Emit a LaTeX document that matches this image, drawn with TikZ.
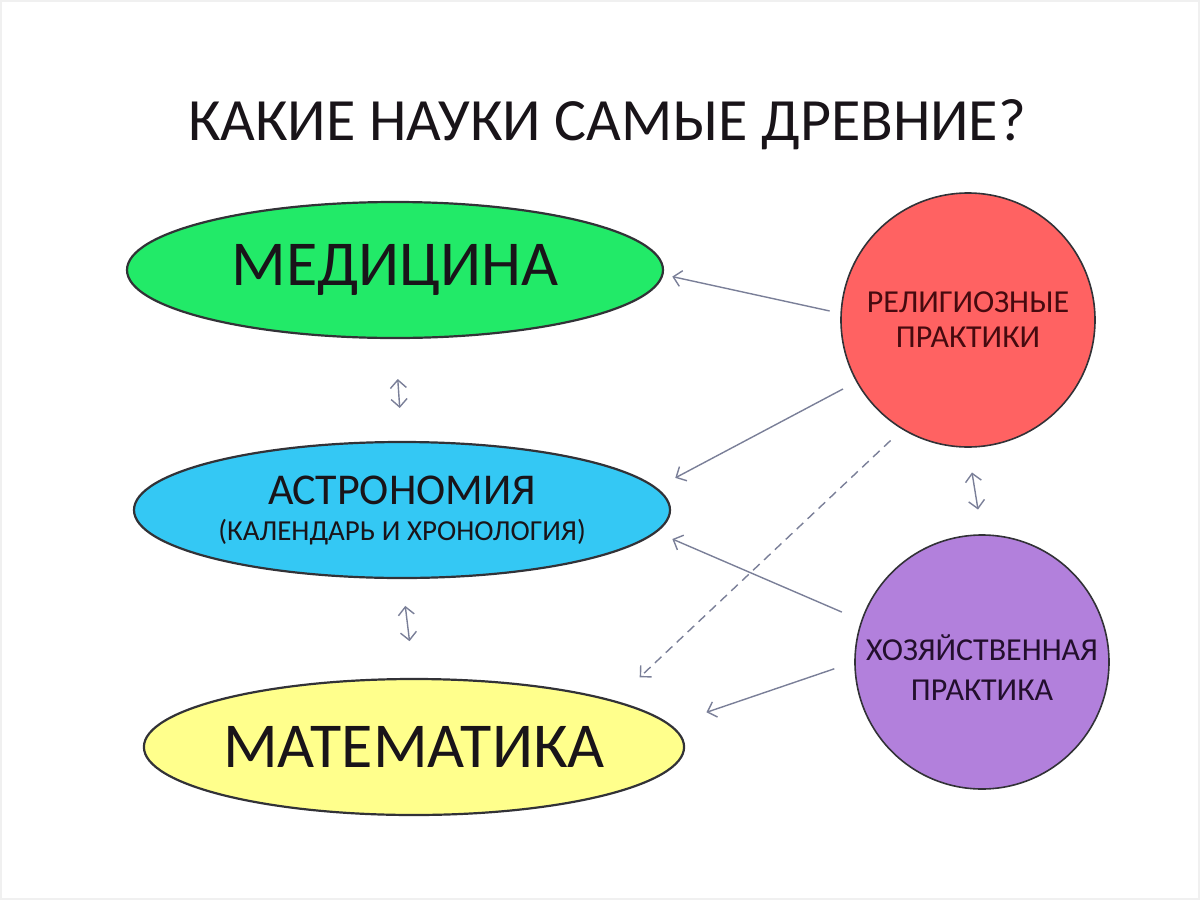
\documentclass[tikz,border=0pt]{standalone}
\usepackage{fontspec}
\setmainfont{Carlito}
\usetikzlibrary{arrows.meta,shapes.geometric}

\definecolor{medgreen}{RGB}{34,234,104}
\definecolor{astroblue}{RGB}{52,200,244}
\definecolor{mathyellow}{RGB}{255,255,140}
\definecolor{relred}{RGB}{255,98,98}
\definecolor{ecopurple}{RGB}{178,128,220}
\definecolor{outline}{RGB}{50,50,55}
\definecolor{linkgray}{RGB}{122,127,152}
\definecolor{textdark}{RGB}{25,20,25}
\definecolor{reltext}{RGB}{70,10,15}
\definecolor{ecotext}{RGB}{35,15,45}

\begin{document}
\begin{tikzpicture}[
x=1pt,
y=-1pt,
science/.style={ellipse, draw=outline, line width=2.2pt, minimum width=536pt,
  minimum height=136pt, inner sep=0pt, align=center, text=textdark},
source/.style={circle, draw=outline, line width=1.6pt, minimum size=254pt,
  inner sep=0pt, align=center},
link/.style={draw=linkgray, line width=1.4pt, -{Straight Barb[length=8pt,width=16pt]}},
both/.style={link, {Straight Barb[length=8pt,width=16pt]}-{Straight Barb[length=8pt,width=16pt]}}
]

\useasboundingbox (0,0) rectangle (1200,900);
\draw[gray!12, line width=2pt] (1,1) rectangle (1199,899);

% title
\node[text=textdark, font=\fontsize{60}{64}\selectfont] (title) at (607,125)
  {КАКИЕ НАУКИ САМЫЕ ДРЕВНИЕ?};

% sciences
\node[science, fill=medgreen, font=\fontsize{64}{68}\selectfont] (med) at (395,270) {МЕДИЦИНА};
\node[science, fill=astroblue, font=\fontsize{44}{36}\selectfont] (astro) at (402,510)
  {АСТРОНОМИЯ\\{\fontsize{29}{36}\selectfont (КАЛЕНДАРЬ И ХРОНОЛОГИЯ)}};
\node[science, fill=mathyellow, font=\fontsize{64}{68}\selectfont] (math) at (414,747) {МАТЕМАТИКА};

% sources
\node[source, fill=relred, text=reltext, font=\fontsize{32}{35}\selectfont] (rel) at (968,320)
  {РЕЛИГИОЗНЫЕ\\ПРАКТИКИ};
\node[source, fill=ecopurple,
  label={[name=ecolabel, align=center, yshift=-6pt, text=ecotext,
    font=\fontsize{32}{40}\selectfont]center:ХОЗЯЙСТВЕННАЯ\\ПРАКТИКА}] (eco) at (982,662) {};

% influences
\draw[link, shorten <=11pt, shorten >=9pt] (rel.177) -- (med.-1.3);
\draw[link, shorten <=15pt, shorten >=21pt] (rel.209) -- (astro.5.8);
\draw[link, dash pattern=on 9pt off 6pt, shorten <=16pt, shorten >=34pt] (rel.239) -- (math.13);
\draw[link, shorten <=21pt, shorten >=17pt] (eco.161) -- (astro.-5.2);
\draw[link, shorten <=21pt, shorten >=38pt] (eco.180) -- (math.5.3);

% two-way links
\draw[both, shorten <=40pt, shorten >=33pt] (med.south) -- (astro.north);
\draw[both, shorten <=27pt, shorten >=37pt] (astro.south) -- (math.north);
\draw[both, shorten <=25pt, shorten >=25pt] (rel.south) -- (eco.north);

\end{tikzpicture}
\end{document}
